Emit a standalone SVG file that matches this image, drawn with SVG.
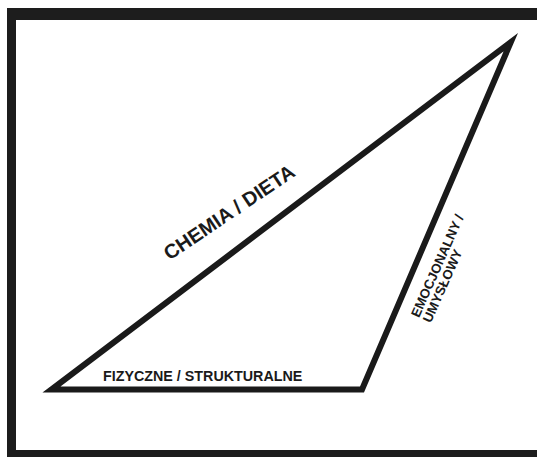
<svg xmlns="http://www.w3.org/2000/svg" width="537" height="457" viewBox="0 0 537 457">
<style>
.frame{fill:#1d1d1d}
.edge{fill:none;stroke:#1a1a1a;stroke-width:6;stroke-linejoin:miter;stroke-miterlimit:10}
.lbl{font-family:"Liberation Sans",Arial,sans-serif;font-weight:bold;fill:#1a1a1a}
</style>
<rect width="537" height="457" fill="#ffffff"/>
<g id="frame">
<rect class="frame" x="7" y="8" width="530" height="12"/>
<rect class="frame" x="7" y="8" width="9" height="449"/>
<rect class="frame" x="7" y="450" width="530" height="7"/>
</g>
<g id="connectors">
<polygon class="edge" points="51.4,389.5 362,389.5 510.8,42.2"/>
</g>
<g id="chemia">
<text class="lbl" font-size="20" text-anchor="middle" transform="translate(233,218) rotate(-34)">CHEMIA / DIETA</text>
</g>
<g id="fizyczne">
<text class="lbl" font-size="14.3" x="103" y="381.4">FIZYCZNE / STRUKTURALNE</text>
</g>
<g id="emocjonalny">
<g transform="translate(441.3,267.9) rotate(-66)">
<text class="lbl" font-size="13.3" x="-55" y="0">EMOCJONALNY /</text>
<text class="lbl" font-size="13.3" x="-55" y="13">UMYSŁOWY</text>
</g>
</g>
</svg>
